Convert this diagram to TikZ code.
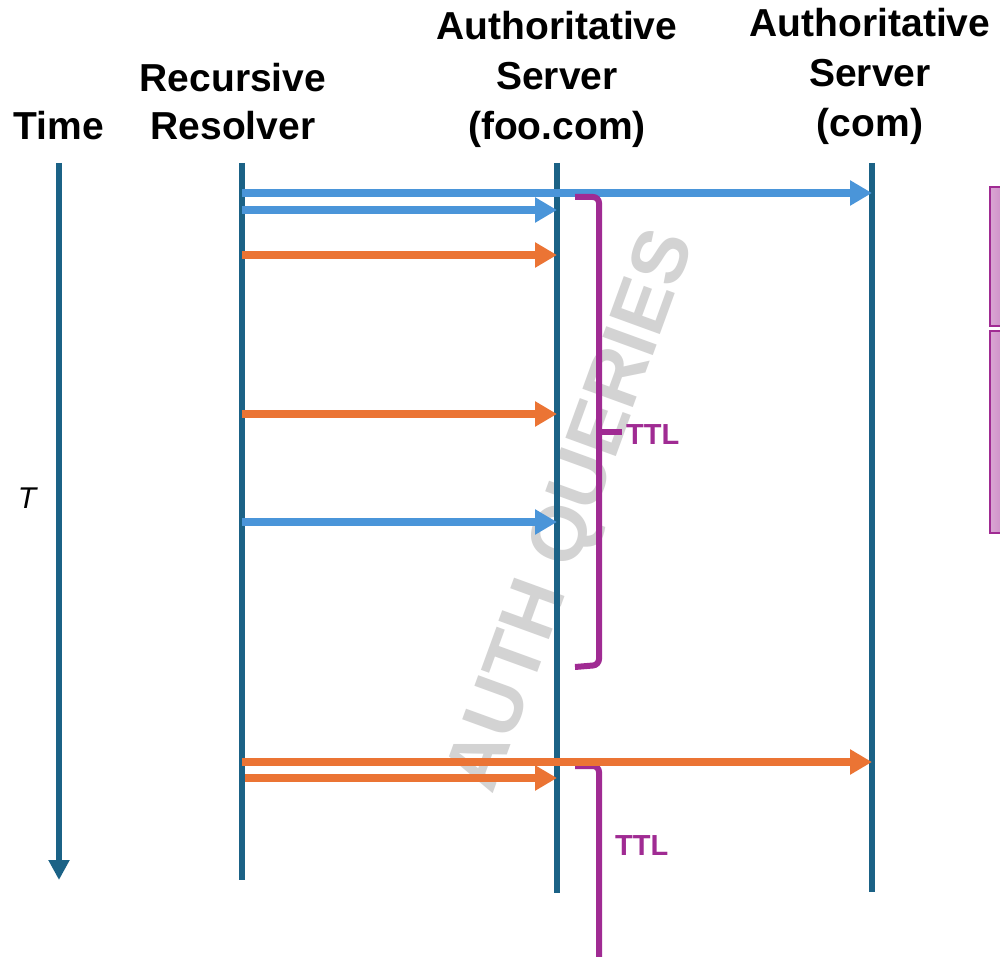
\documentclass[tikz,border=0pt]{standalone}
\usepackage{fontspec}
\setmainfont{Liberation Sans}
\usetikzlibrary{arrows.meta}
\definecolor{lifeC}{HTML}{1B6286}
\definecolor{blueC}{HTML}{4A95D9}
\definecolor{orangeC}{HTML}{EB7434}
\definecolor{purpC}{HTML}{A02B93}
\definecolor{boxL}{HTML}{D9A6D3}
\definecolor{boxD}{HTML}{C47BBD}
\definecolor{wmC}{HTML}{D3D3D3}
\tikzset{
  lifeline/.style={draw=lifeC, line width=6pt},
  msgblue/.style={draw=blueC, line width=7.5pt, -{Triangle[length=22pt,width=24pt]}},
  msgorange/.style={draw=orangeC, line width=7.5pt, -{Triangle[length=22pt,width=24pt]}},
  hdr/.style={font=\fontsize{39}{48}\selectfont\bfseries, text=black, inner sep=0pt, anchor=base},
  brk/.style={draw=purpC, line width=6pt, rounded corners=6pt},
  ttl/.style={font=\fontsize{29}{32}\selectfont\bfseries, text=purpC, inner sep=0pt, anchor=base west},
  sidebox/.style={draw=purpC, line width=2pt, left color=boxL, right color=boxD},
}
\begin{document}
\begin{tikzpicture}[x=1pt,y=-1pt]
\clip (0,0) rectangle (1000,957);
\fill[white] (0,0) rectangle (1000,957);
% watermark
\node[rotate=70, text=wmC, font=\fontsize{78}{80}\selectfont\bfseries, inner sep=0pt] (wm) at (575,512) {AUTH QUERIES};
% headers
\node[hdr] (time) at (59,140) {Time};
\node[hdr] (rr1) at (233,92) {Recursive};
\node[hdr] (rr2) at (233,140) {Resolver};
\node[hdr] (af1) at (557,40) {Authoritative};
\node[hdr] (af2) at (557,90) {Server};
\node[hdr] (af3) at (557,140) {(foo.com)};
\node[hdr] (ac1) at (870,37) {Authoritative};
\node[hdr] (ac2) at (870,87) {Server};
\node[hdr] (ac3) at (870,137) {(com)};
\node[font=\fontsize{30}{32}\selectfont\itshape, inner sep=0pt, anchor=base] (T) at (27,508) {T};
% lifelines
\coordinate (t0) at (59,163); \coordinate (t1) at (59,880);
\coordinate (r0) at (242,163); \coordinate (r1) at (242,880);
\coordinate (f0) at (557,163); \coordinate (f1) at (557,893);
\coordinate (c0) at (872,163); \coordinate (c1) at (872,892);
\draw[lifeline, -{Triangle[length=20pt,width=20pt]}] (t0) -- (t1);
\draw[lifeline] (r0) -- (r1);
\draw[lifeline] (f0) -- (f1);
\draw[lifeline] (c0) -- (c1);
% messages
\coordinate (m1s) at (242,193); \coordinate (m1e) at (872,193);
\coordinate (m2s) at (242,210); \coordinate (m2e) at (557,210);
\coordinate (m3s) at (242,255); \coordinate (m3e) at (557,255);
\coordinate (m4s) at (242,414); \coordinate (m4e) at (557,414);
\coordinate (m5s) at (242,522); \coordinate (m5e) at (557,522);
\coordinate (m6s) at (242,762); \coordinate (m6e) at (872,762);
\coordinate (m7s) at (245,778); \coordinate (m7e) at (557,778);
\draw[msgblue] (m1s) -- (m1e);
\draw[msgblue] (m2s) -- (m2e);
\draw[msgorange] (m3s) -- (m3e);
\draw[msgorange] (m4s) -- (m4e);
\draw[msgblue] (m5s) -- (m5e);
% brackets
\coordinate (b1a) at (575,197); \coordinate (b1b) at (599,197);
\coordinate (b1c) at (599,665); \coordinate (b1d) at (575,667);
\coordinate (b1m) at (599,432); \coordinate (b1t) at (622,432);
\draw[brk] (b1a) -- (b1b) -- (b1c) -- (b1d);
\draw[draw=purpC, line width=6pt] (b1m) -- (b1t);
\node[ttl] (ttl1) at (626,444) {TTL};
\coordinate (b2a) at (575,766); \coordinate (b2b) at (599,766); \coordinate (b2c) at (599,960);
\draw[brk] (b2a) -- (b2b) -- (b2c);
\node[ttl] (ttl2) at (615,855) {TTL};
\draw[msgorange] (m6s) -- (m6e);
\draw[msgorange] (m7s) -- (m7e);
% side boxes
\node[sidebox, minimum width=24pt, minimum height=139pt, inner sep=0pt] (sb1) at (1002,256.5) {};
\node[sidebox, minimum width=24pt, minimum height=202pt, inner sep=0pt] (sb2) at (1002,432) {};
\end{tikzpicture}
\end{document}
